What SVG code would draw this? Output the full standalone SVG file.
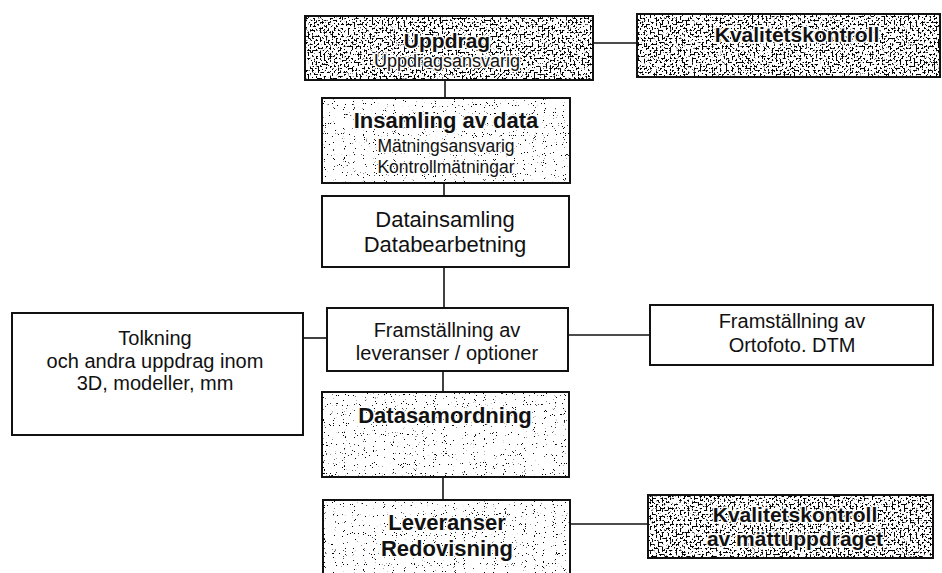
<svg xmlns="http://www.w3.org/2000/svg" width="942" height="573" viewBox="0 0 942 573">
<style>
.box{fill:none;stroke:#111;stroke-width:2}
.bg{fill:#fff}
.conn line{stroke:#111;stroke-width:1.6}
text{font-family:"Liberation Sans",Arial,sans-serif;fill:#111;text-anchor:middle}
.b{font-weight:bold}
.halo{paint-order:stroke;stroke:#fff;stroke-width:3;stroke-linejoin:round}
.f22{font-size:22px}
.f21{font-size:21px}
.f20{font-size:20px}
.f18{font-size:18px}
.f17{font-size:17.5px}
</style>
<defs>
<filter id="gray" x="0" y="0" width="100%" height="100%" color-interpolation-filters="sRGB">
<feTurbulence type="fractalNoise" baseFrequency="0.5" numOctaves="2" seed="4" result="n"/>
<feColorMatrix in="n" type="matrix" values="0 0 0 0 0  0 0 0 0 0  0 0 0 0 0  -16 0 0 0 7.6"/>
<feComposite operator="in" in2="SourceGraphic"/>
</filter>
<filter id="dots" x="0" y="0" width="100%" height="100%" color-interpolation-filters="sRGB">
<feTurbulence type="fractalNoise" baseFrequency="1.1" numOctaves="1" seed="9" result="n"/>
<feColorMatrix in="n" type="matrix" values="0 0 0 0 0  0 0 0 0 0  0 0 0 0 0  -30 0 0 0 9.6"/>
<feComposite operator="in" in2="SourceGraphic"/>
</filter>
</defs>
<rect width="942" height="573" fill="#fff"/>

<g id="connectors" class="conn">
<line x1="593" y1="43" x2="637" y2="43"/>
<line x1="445" y1="80" x2="445" y2="98"/>
<line x1="444" y1="183" x2="444" y2="196"/>
<line x1="444" y1="267" x2="444" y2="308"/>
<line x1="303" y1="338" x2="327" y2="338"/>
<line x1="568" y1="335" x2="650" y2="335"/>
<line x1="443" y1="371" x2="443" y2="392"/>
<line x1="443" y1="477" x2="443" y2="500"/>
<line x1="570" y1="524" x2="648" y2="524"/>
</g>

<g id="uppdrag">
<rect class="bg" x="305" y="16" width="288" height="64"/>
<rect x="305" y="16" width="288" height="64" fill="#000" filter="url(#gray)"/>
<rect class="box" x="305" y="16" width="288" height="64"/>
<text class="b f21 halo" x="447" y="48">Uppdrag</text>
<text class="f18 halo" x="447" y="67">Uppdragsansvarig</text>
</g>

<g id="kvalitetskontroll">
<rect class="bg" x="637" y="14" width="303" height="63"/>
<rect x="637" y="14" width="303" height="63" fill="#000" filter="url(#gray)"/>
<rect class="box" x="637" y="14" width="303" height="63"/>
<text class="b f21 halo" x="797" y="42">Kvalitetskontroll</text>
</g>

<g id="insamling">
<rect class="bg" x="322" y="98" width="248" height="85"/>
<rect x="322" y="98" width="248" height="85" fill="#000" filter="url(#dots)"/>
<rect class="box" x="322" y="98" width="248" height="85"/>
<text class="b f22 halo" x="446" y="128">Insamling av data</text>
<text class="f17 halo" x="446" y="152">Mätningsansvarig</text>
<text class="f17 halo" x="446" y="173">Kontrollmätningar</text>
</g>

<g id="datainsamling">
<rect class="bg" x="322" y="196" width="247" height="71"/>
<rect class="box" x="322" y="196" width="247" height="71"/>
<text class="f22" x="445" y="227">Datainsamling</text>
<text class="f22" x="445" y="252">Databearbetning</text>
</g>

<g id="framstallning">
<rect class="bg" x="327" y="308" width="241" height="63"/>
<rect class="box" x="327" y="308" width="241" height="63"/>
<text class="f20" x="447" y="337">Framställning av</text>
<text class="f20" x="447" y="360">leveranser / optioner</text>
</g>

<g id="tolkning">
<rect class="bg" x="12" y="313" width="291" height="122"/>
<rect class="box" x="12" y="313" width="291" height="122"/>
<text class="f20" x="155" y="345">Tolkning</text>
<text class="f20" x="155" y="368">och andra uppdrag inom</text>
<text class="f20" x="155" y="390">3D, modeller, mm</text>
</g>

<g id="ortofoto">
<rect class="bg" x="650" y="305" width="283" height="60"/>
<rect class="box" x="650" y="305" width="283" height="60"/>
<text class="f20" x="792" y="328">Framställning av</text>
<text class="f20" x="792" y="352">Ortofoto. DTM</text>
</g>

<g id="datasamordning">
<rect class="bg" x="322" y="392" width="247" height="85"/>
<rect x="322" y="392" width="247" height="85" fill="#000" filter="url(#dots)"/>
<rect class="box" x="322" y="392" width="247" height="85"/>
<text class="b f22 halo" x="445" y="423">Datasamordning</text>
</g>

<g id="leveranser">
<rect class="bg" x="323" y="500" width="247" height="85"/>
<rect x="323" y="500" width="247" height="85" fill="#000" filter="url(#dots)"/>
<rect class="box" x="323" y="500" width="247" height="85"/>
<text class="b f22 halo" x="447" y="530">Leveranser</text>
<text class="b f22 halo" x="447" y="556">Redovisning</text>
</g>

<g id="kvalitetskontroll2">
<rect class="bg" x="648" y="495" width="285" height="63"/>
<rect x="648" y="495" width="285" height="63" fill="#000" filter="url(#gray)"/>
<rect class="box" x="648" y="495" width="285" height="63"/>
<text class="b f21 halo" x="795" y="522">Kvalitetskontroll</text>
<text class="b f21 halo" x="795" y="546">av mättuppdraget</text>
</g>
</svg>
